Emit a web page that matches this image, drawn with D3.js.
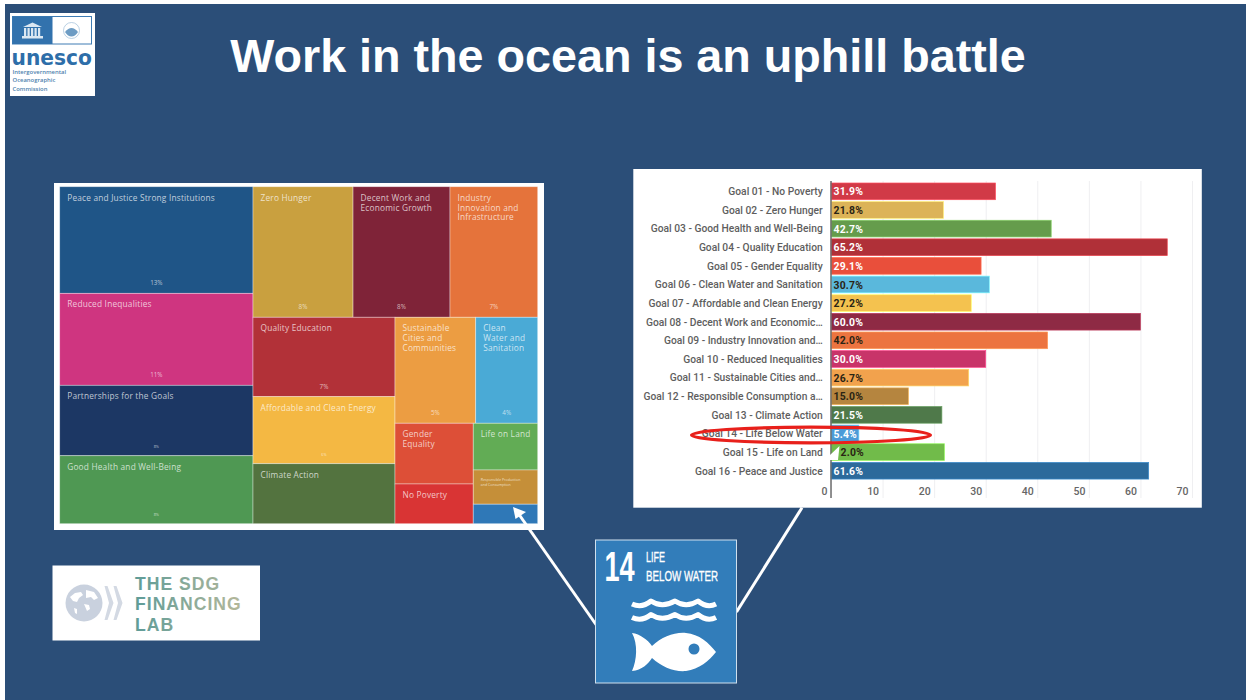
<!DOCTYPE html>
<html><head><meta charset="utf-8">
<script src="https://cdn.jsdelivr.net/npm/d3@7"></script>
<style>html,body{margin:0;padding:0;background:#fff;overflow:hidden}svg{display:block}</style>
</head><body><svg id="c" width="1246" height="700"></svg>
<script>
// ---- data ----
const title = "Work in the ocean is an uphill battle";

const barNames = ["Goal 01 - No Poverty","Goal 02 - Zero Hunger","Goal 03 - Good Health and Well-Being","Goal 04 - Quality Education","Goal 05 - Gender Equality","Goal 06 - Clean Water and Sanitation","Goal 07 - Affordable and Clean Energy","Goal 08 - Decent Work and Economic…","Goal 09 - Industry Innovation and…","Goal 10 - Reduced Inequalities","Goal 11 - Sustainable Cities and…","Goal 12 - Responsible Consumption a…","Goal 13 - Climate Action","Goal 14 - Life Below Water","Goal 15 - Life on Land","Goal 16 - Peace and Justice"];
const barValues = [31.9,21.8,42.7,65.2,29.1,30.7,27.2,60.0,42.0,30.0,26.7,15.0,21.5,5.4,22.0,61.6];
const barLabels = ["31.9%","21.8%","42.7%","65.2%","29.1%","30.7%","27.2%","60.0%","42.0%","30.0%","26.7%","15.0%","21.5%","5.4%","2.0%","61.6%"];
const barColors = ["#d13a47","#dcb358","#659c4c","#b03038","#e94f3b","#5ab8dc","#f4c24f","#8e2a44","#ec7440","#c83469","#f2a24d","#b5853f","#4f794a","#4b9bd8","#71bb4a","#2c6a9b"];
const barLabelDark = [0,1,0,0,0,1,1,0,1,0,1,1,0,0,1,0];
const barTicks = [0,10,20,30,40,50,60,70];

const mapNames = ["Peace and Justice Strong Institutions","Reduced Inequalities","Partnerships for the Goals","Good Health and Well-Being","Zero Hunger","Decent Work and Economic Growth","Industry Innovation and Infrastructure","Quality Education","Affordable and Clean Energy","Climate Action","Sustainable Cities and Communities","Clean Water and Sanitation","Gender Equality","No Poverty","Life on Land","Responsible Production and Consumption","Life Below Water"];
const mapValues = [12.8,11.04,8.45,8.16,8.11,7.86,7.11,7.0,5.91,5.29,5.31,4.08,2.95,1.93,1.87,1.37,0.78];
const mapPercent = ["13%","11%","8%","8%","8%","8%","7%","7%","6%","","5%","4%","","","","",""];
const mapColors = ["#1f5587","#cf3580","#1c3764","#4f9853","#c9a03f","#7f2338","#e5733b","#b23138","#f4b843","#53733f","#ec9d42","#4aaad6","#dd4f37","#d93434","#62ac55","#c58f39","#2f78b7"];
const mapLines = [["Peace and Justice Strong Institutions"],["Reduced Inequalities"],["Partnerships for the Goals"],["Good Health and Well-Being"],["Zero Hunger"],["Decent Work and","Economic Growth"],["Industry","Innovation and","Infrastructure"],["Quality Education"],["Affordable and Clean Energy"],["Climate Action"],["Sustainable","Cities and","Communities"],["Clean","Water and","Sanitation"],["Gender","Equality"],["No Poverty"],["Life on Land"],["Responsible Production","and Consumption"],[]];
// nesting of the treemap, as indexes into the lists above
const mapNesting = [[0,1,2,3],[[4,5,6],[[7,8,9],[[10,11],[[12,13],[14,15,16]]]]]];

// ---- page ----
const svg = d3.select("#c");
svg.append("rect").attr("x",5).attr("y",4).attr("width",1241).attr("height",696).attr("fill","#2b4e78");
const defs = svg.append("defs");
const lg = defs.append("linearGradient").attr("id","sdgText").attr("gradientUnits","userSpaceOnUse").attr("x1",135).attr("x2",243).attr("y1",0).attr("y2",0);
lg.append("stop").attr("offset","0").attr("stop-color","#5e9c98");
lg.append("stop").attr("offset","1").attr("stop-color","#b6b89a");

svg.append("text").attr("x",628).attr("y",72).attr("text-anchor","middle")
  .attr("font-family","Liberation Sans").attr("font-weight",700).attr("font-size",46.7).attr("fill","#fff").text(title);

// ---- treemap card ----
svg.append("rect").attr("x",54).attr("y",183).attr("width",490).attr("height",347).attr("fill","#fff");
const toNode = n => Array.isArray(n) ? {children:n.map(toNode)} : {i:n};
const root = d3.hierarchy(toNode(mapNesting)).sum(d => d.i===undefined ? 0 : mapValues[d.i]);
d3.treemap().tile(d3.treemapSliceDice).size([478,337]).round(false)(root);
const mapG = svg.append("g").attr("transform","translate(59.7,186.7)");
const leaf = mapG.selectAll("g").data(root.leaves()).join("g").attr("transform",d=>`translate(${d.x0},${d.y0})`);
leaf.append("rect").attr("width",d=>d.x1-d.x0).attr("height",d=>d.y1-d.y0)
  .attr("fill",d=>mapColors[d.data.i]).attr("stroke","#fff").attr("stroke-opacity",.45).attr("stroke-width",.8);
leaf.each(function(d){
  const g = d3.select(this), i = d.data.i, small = i===15;
  (mapLines[i]).forEach((t,k)=>{
    g.append("text").attr("x",7.5).attr("y",small?(11+k*5):(14+k*9.9)).text(t)
     .attr("font-family","Open Sans").attr("font-size",small?3.6:8.3).attr("letter-spacing",small?0:.2)
     .attr("fill","#fff").attr("fill-opacity",.72);
  });
  const tiny = ["Partnerships for the Goals","Good Health and Well-Being","Affordable and Clean Energy"].includes(mapNames[i]);
  if(mapPercent[i]) g.append("text").attr("x",(d.x1-d.x0)/2).attr("y",d.y1-d.y0-(tiny?7.5:8)).attr("text-anchor","middle")
     .attr("font-family","Open Sans").attr("font-size",tiny?3.8:6.3).attr("fill","#fff").attr("fill-opacity",.65).text(mapPercent[i]);
});

// ---- bar card ----
svg.append("rect").attr("x",633.3).attr("y",169).attr("width",568.5).attr("height",338.7).attr("fill","#fff");
const x = d3.scaleLinear().domain([0,70]).range([831,1192]);
const y = d3.scaleBand().domain(barNames).range([182.07,480]).paddingInner(.103).paddingOuter(.05);
const xAxis = svg.append("g").attr("transform","translate(0,498)")
  .call(d3.axisBottom(x).tickValues(barTicks).tickSize(-317).tickPadding(-10.5));
xAxis.select(".domain").remove();
xAxis.selectAll("line").attr("stroke","#efeff1");
xAxis.selectAll("text").attr("text-anchor","end").attr("dx",-4)
  .attr("font-family","Roboto").attr("font-weight",500).attr("font-size",10.5).attr("fill","#666");
svg.selectAll(".bar").data(barNames).join("rect").attr("class","bar")
  .attr("x",x(0)).attr("y",d=>y(d)).attr("height",y.bandwidth())
  .attr("width",(d,i)=>x(barValues[i])-x(0)).attr("fill",(d,i)=>barColors[i])
  .attr("stroke",(d,i)=>d3.color(barColors[i]).brighter(.8)).attr("stroke-width",.7);
svg.append("g").attr("transform","translate(822.7,0.6)")
  .call(d3.axisLeft(y).tickSize(0).tickPadding(0))
  .call(g=>g.select(".domain").remove())
  .selectAll("text").attr("font-family","Roboto").attr("font-weight",500).attr("font-size",10.25).attr("fill","#5e5e5e");
svg.append("line").attr("x1",831).attr("x2",831).attr("y1",181).attr("y2",498).attr("stroke","#6d6d6d").attr("stroke-width",1.5);
svg.selectAll(".val").data(barNames).join("text").attr("class","val")
  .attr("x",(d,i)=> barLabels[i]==="2.0%" ? 840.5 : 833.5).attr("y",d=>y(d)+y.bandwidth()/2+.4).attr("dy","0.36em")
  .attr("font-family","Roboto").attr("font-weight",700).attr("font-size",10.4).attr("letter-spacing",.2)
  .attr("fill",(d,i)=>barLabelDark[i]?"#2a2414":"#fff").text((d,i)=>barLabels[i]);

// ---- annotations ----
svg.append("polygon").attr("points","839.5,446 838,460 830,460 830,455").attr("fill","#fff");
svg.append("ellipse").attr("cx",811).attr("cy",435).attr("rx",119.5).attr("ry",7.8).attr("fill","none").attr("stroke","#e8201b").attr("stroke-width",3.2);
svg.append("line").attr("x1",597).attr("y1",626).attr("x2",518).attr("y2",513).attr("stroke","#fff").attr("stroke-width",3);
svg.append("polygon").attr("points","513,507 526,512 515.5,519").attr("fill","#fff");
svg.append("line").attr("x1",736.5).attr("y1",612).attr("x2",802).attr("y2",507.7).attr("stroke","#fff").attr("stroke-width",3);

// ---- SDG 14 tile ----
const t = svg.append("g");
t.append("rect").attr("x",595.5).attr("y",540).attr("width",141).attr("height",143).attr("fill","#327dba").attr("stroke","#cfe0ee").attr("stroke-width",1);
const sq = (s,px,py,sx,fs,w,sw) => t.append("text").attr("transform",`translate(${px},${py}) scale(${sx},1)`)
  .attr("font-family","Liberation Sans").attr("font-weight",w).attr("font-size",fs).attr("fill","#fff").attr("stroke","#fff").attr("stroke-width",sw).text(s);
sq("14",604.5,581,.63,43,700,0);
sq("LIFE",646,562,.6,15,400,.35);
sq("BELOW WATER",646,581,.65,15,400,.35);
const wave = y0 => `M632,${y0} Q642,${y0+4.5} 651,${y0-3} Q662,${y0+4.5} 675,${y0-3} Q686,${y0+4.5} 698,${y0-3} Q707,${y0+4.5} 716,${y0}`;
[604,617.5].forEach(w=>t.append("path").attr("d",wave(w)).attr("fill","none").attr("stroke","#fff").attr("stroke-width",5).attr("stroke-linejoin","round"));
t.append("path").attr("fill","#fff").attr("fill-rule","evenodd")
 .attr("d","M632,633 C640,634 648,640 652,646 C662,637 674,632 686,633 C699,634 709,643 716,652 C709,661 699,669 686,671 C674,672 662,667 652,658 C648,664 642,670 632,671 C637,660 638,644 632,633 Z M688.5,649 a5.5,5.5 0 1,0 11,0 a5.5,5.5 0 1,0 -11,0 Z");

// ---- UNESCO logo ----
const u = svg.append("g");
u.append("rect").attr("x",10).attr("y",13).attr("width",85).attr("height",83).attr("fill","#fff");
u.append("rect").attr("x",12.5).attr("y",16.5).attr("width",79).attr("height",27.5).attr("fill","none").attr("stroke","#3e7cb4").attr("stroke-width",1);
u.append("rect").attr("x",12.5).attr("y",16.5).attr("width",40).attr("height",27.5).attr("fill","#3272ad");
u.append("polygon").attr("points","23,27 32.5,22.5 42,27").attr("fill","#dbe7f2");
[24,27.5,31,34.5,38].forEach(a=>u.append("rect").attr("x",a).attr("y",28).attr("width",2.2).attr("height",8).attr("fill","#dbe7f2"));
u.append("rect").attr("x",22).attr("y",36).attr("width",21).attr("height",2.5).attr("fill","#dbe7f2");
u.append("circle").attr("cx",71.5).attr("cy",30.5).attr("r",8).attr("fill","#fff").attr("stroke","#9dbdd8").attr("stroke-width",.7);
u.append("path").attr("d","M65,32 q6.5,-8 13,0 q-3,4.5 -6.5,4.5 q-3.5,0 -6.5,-4.5 Z").attr("fill","#6d9cc4");
u.append("text").attr("transform","translate(11.5,65) scale(.92,1)").attr("font-family","DejaVu Sans").attr("font-weight",700).attr("font-size",22).attr("fill","#2d6ea9").text("unesco");
["Intergovernmental","Oceanographic","Commission"].forEach((s,k)=>u.append("text").attr("x",12.5).attr("y",74+k*8.3).attr("font-family","Open Sans").attr("font-weight",600).attr("font-size",5.9).attr("fill","#4d7fae").text(s));

// ---- SDG Financing Lab logo ----
const l = svg.append("g");
l.append("rect").attr("x",52.5).attr("y",565.5).attr("width",207.5).attr("height",75).attr("fill","#fff");
l.append("circle").attr("cx",84).attr("cy",603).attr("r",18.5).attr("fill","#c9d1de");
l.append("path").attr("d","M70,597 l5,-4 l6,-1 l2,3 l-4,3 l-2,4 l-4,-1 Z M86,590 l8,2 l4,6 l-4,2 l-3,-3 l-5,1 Z M84,604 l5,1 l1,4 l-3,2 Z M74,608 l3,1 l0,5 l-2,-1 Z").attr("fill","#fff");
[0,9].forEach(o=>l.append("polygon").attr("points",`${104.5+o},586 ${107.5+o},586 ${113.5+o},603 ${107.5+o},620 ${104.5+o},620 ${109+o},603`).attr("fill","#d3d9e3"));
["THE SDG","FINANCING","LAB"].forEach((s,k)=>l.append("text").attr("x",135).attr("y",589.5+k*20.5).attr("font-family","Liberation Sans").attr("font-weight",700).attr("font-size",17.6).attr("letter-spacing",1).attr("fill","url(#sdgText)").text(s));
</script></body></html>
